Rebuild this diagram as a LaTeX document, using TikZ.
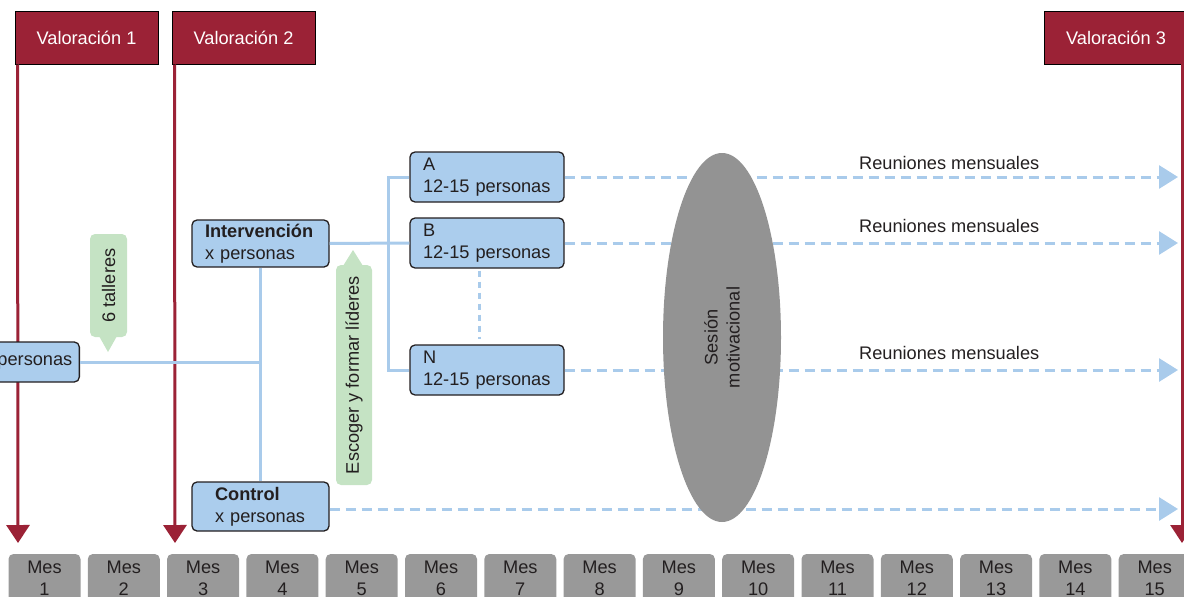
\documentclass[tikz,border=0pt]{standalone}
\usepackage{fontspec}
\setmainfont{Liberation Sans}
\usetikzlibrary{arrows.meta,shapes.geometric}
\definecolor{vred}{HTML}{9B2236}
\definecolor{bfill}{HTML}{ABCDED}
\definecolor{bline}{HTML}{A9CBEB}
\definecolor{gfill}{HTML}{C5E3C4}
\definecolor{mgray}{HTML}{999999}
\definecolor{egray}{HTML}{939393}
\definecolor{tdark}{HTML}{231F20}
\tikzset{
  valbox/.style={rectangle, fill=vred, draw=black, line width=1pt, minimum width=143, minimum height=53, text=white, inner sep=0},
  redline/.style={draw=vred, line width=3pt, -{Triangle[length=18pt,width=23pt]}},
  bluebox/.style={rectangle, rounded corners=5pt, fill=bfill, draw=tdark, line width=1.3pt, text=tdark, align=left, inner ysep=0},
  grpbox/.style={bluebox, minimum width=154, minimum height=50, text width=128, inner xsep=13},
  conn/.style={draw=bline, line width=3pt},
  dasharrow/.style={draw=bline, line width=3pt, dash pattern=on 10pt off 6pt, -{Triangle[length=19pt,width=23pt,fill=bline]}},
  callout/.style={rectangle, rounded corners=5pt, fill=gfill, text=tdark, rotate=90, inner sep=0},
  month/.style={rectangle, rounded corners=5pt, fill=mgray, text=tdark, minimum width=72, minimum height=48, align=center, inner sep=0},
  lbl/.style={text=tdark, inner sep=0, anchor=west}
}
\begin{document}
\begin{tikzpicture}[x=1pt,y=-1pt,font=\fontsize{18.2}{22}\selectfont]
\useasboundingbox (0,0) rectangle (1184,597);

% assessment boxes
\node[valbox] (v1) at (86.5,37.5) {Valoración 1};
\node[valbox] (v2) at (243.5,37.5) {Valoración 2};
\node[valbox] (v3) at (1116,37.5) {Valoración 3};
\coordinate (v1end) at (18,543);
\coordinate (v2end) at (175,543);
\coordinate (v3top) at (1182,64);
\coordinate (v3end) at (1182,543);
\draw[redline] ([xshift=3pt]v1.south west) -- (v1end);
\draw[redline] ([xshift=3pt]v2.south west) -- (v2end);
\draw[redline] (v3top) -- (v3end);

% groups
\node[bluebox, anchor=east, minimum height=40, inner xsep=7] (total) at (80,362) {personas};
\node[bluebox, minimum width=137, minimum height=47, text width=111, inner xsep=13] (interv) at (260.5,243.5) {\textbf{Intervención}\\x personas};
\node[bluebox, minimum width=137, minimum height=49, text width=91, inner xsep=23] (control) at (260.5,506.5) {\textbf{Control}\\x personas};
\node[grpbox] (ga) at (487,177) {A\\12-15 personas};
\node[grpbox] (gb) at (487,243) {B\\12-15 personas};
\node[grpbox] (gn) at (487,370) {N\\12-15 personas};

% connectors
\draw[conn] (total.east) -- (interv.south |- total.east);
\draw[conn] (interv.south) -- (control.north);
\draw[conn] (interv.east) -- (gb.west);
\draw[conn] (ga.west) -- ++(-21,0) |- (gn.west);
\draw[draw=bline, line width=3pt, dash pattern=on 6pt off 5pt] ([xshift=-8pt,yshift=-2pt]gb.south) -- ([xshift=-8pt,yshift=5pt]gn.north);

% callouts
\node[callout, minimum width=103, minimum height=37] (talleres) at (108.5,285.5) {6 talleres};
\fill[gfill] (99,336) -- (108,352) -- (117,336) -- cycle;
\node[callout, minimum width=220, minimum height=36] (lideres) at (354,375) {Escoger y formar líderes};
\fill[gfill] (343,266) -- (353,250) -- (363,266) -- cycle;

% dashed arrows
\coordinate (ea) at (1178,177);
\coordinate (eb) at (1178,243);
\coordinate (en) at (1178,370);
\coordinate (ec) at (1178,509);
\draw[dasharrow] (ga.east) -- (ea);
\draw[dasharrow] (gb.east) -- (eb);
\draw[dasharrow] (gn.east) -- (en);
\draw[dasharrow] (control.east |- ec) -- (ec);

\node[lbl] (ra) at (859,163) {Reuniones mensuales};
\node[lbl] (rb) at (859,226) {Reuniones mensuales};
\node[lbl] (rn) at (859,353) {Reuniones mensuales};

% motivational session
\node[ellipse, fill=egray, rotate=90, minimum width=369, minimum height=118, inner sep=0, align=center, text=tdark] (ses) at (722,337.5) {Sesión\\motivacional};

% months
\foreach \i in {1,...,15}
  \node[month] (m\i) at ({44.5+(\i-1)*79.3},578) {Mes\\\i};
\end{tikzpicture}
\end{document}
